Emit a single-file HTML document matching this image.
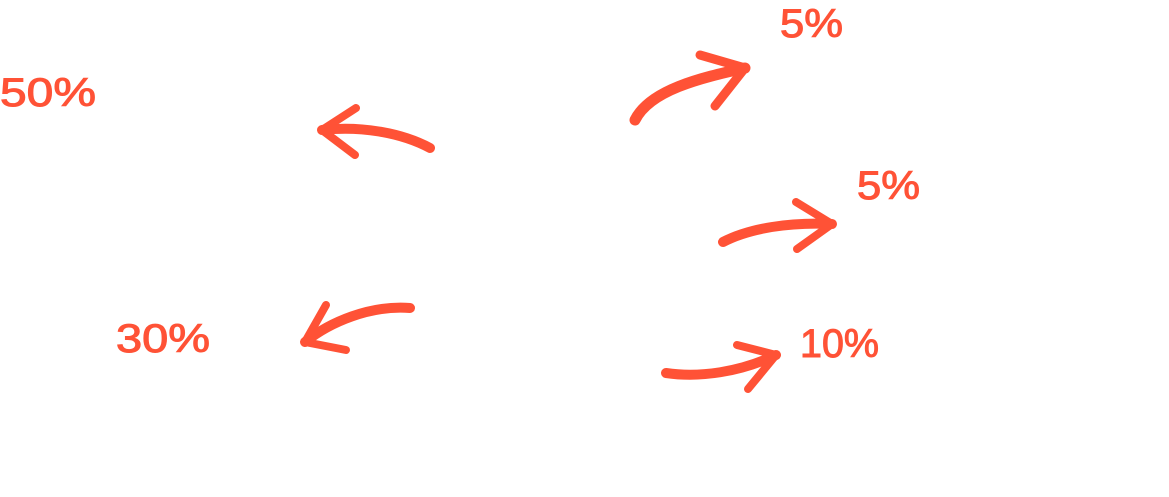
<!DOCTYPE html>
<html><head><meta charset="utf-8"><style>
html,body{margin:0;padding:0;background:#fff;width:1169px;height:497px;overflow:hidden}
svg{display:block}
text{font-family:"Liberation Sans",sans-serif;font-weight:normal;fill:#FF5236}
</style></head><body>
<svg width="1169" height="497" viewBox="0 0 1169 497">
<g fill="none" stroke="#FF5236" stroke-linecap="round" stroke-linejoin="round">
<path d="M430 148 C400 132 360 126 322 130" stroke-width="10"/>
<path d="M356 108 L322 130 L355 155" stroke-width="8"/>
<path d="M410 308 C370 305 330 322 305 342" stroke-width="10"/>
<path d="M326 305 L305 342 L346 350" stroke-width="8"/>
<path d="M635 120 C650 90 700 78 745 68" stroke-width="11"/>
<path d="M700 55 L745 68 L715 106" stroke-width="9"/>
<path d="M723 242 C750 228 790 222 832 224" stroke-width="10"/>
<path d="M796 202 L832 224 L797 249" stroke-width="8"/>
<path d="M666 373 C700 378 740 372 776 355" stroke-width="10"/>
<path d="M737 345 L776 355 L748 389" stroke-width="8"/>
</g>
<g stroke="#FF5236" stroke-width="1">
<text x="0" y="106" font-size="40" textLength="96" lengthAdjust="spacingAndGlyphs">50%</text>
<text x="780" y="37" font-size="40" textLength="63" lengthAdjust="spacingAndGlyphs">5%</text>
<text x="857" y="199" font-size="40" textLength="63" lengthAdjust="spacingAndGlyphs">5%</text>
<text x="116" y="352" font-size="40" textLength="94" lengthAdjust="spacingAndGlyphs">30%</text>
<text x="800" y="357" font-size="40" textLength="79" lengthAdjust="spacingAndGlyphs">10%</text>
</g>
</svg>
</body></html>
